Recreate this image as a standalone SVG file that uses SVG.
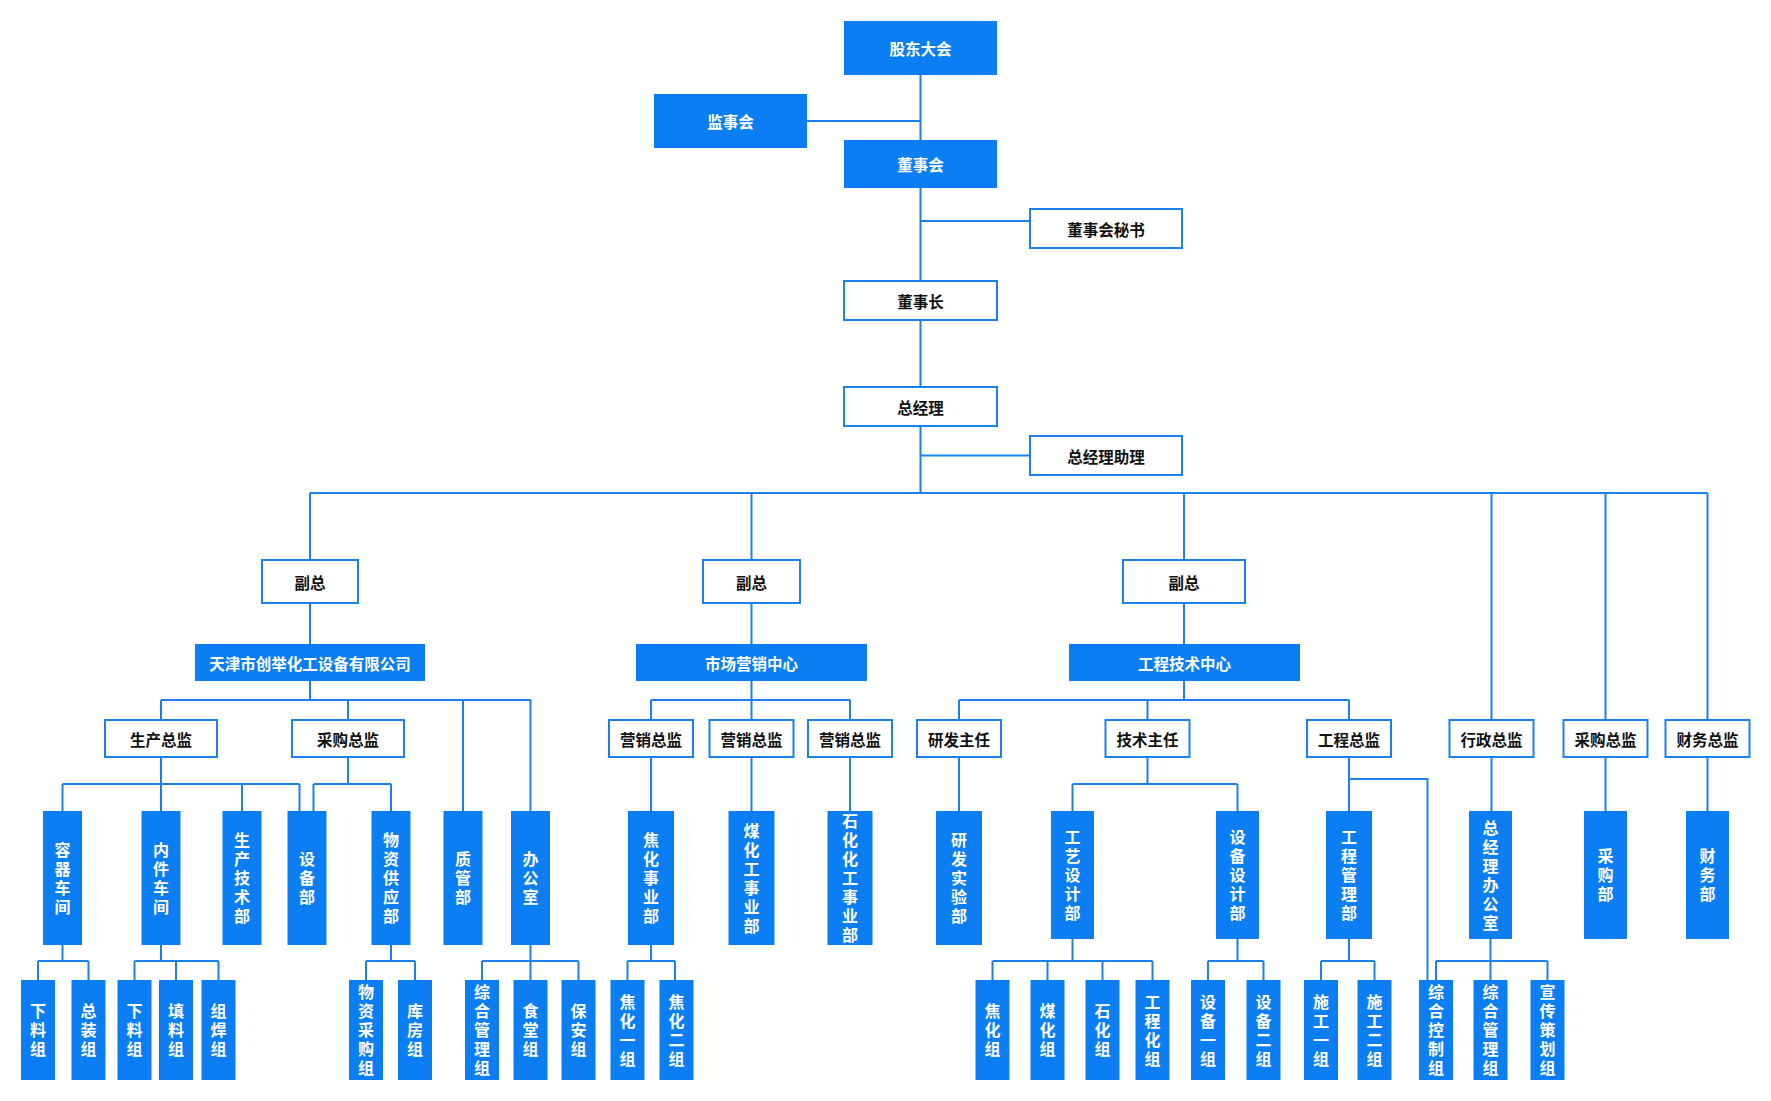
<svg xmlns="http://www.w3.org/2000/svg" width="1771" height="1101" viewBox="0 0 1771 1101">
<style>
.bg{fill:#ffffff}
.ln{stroke:#1a80ec;stroke-width:2;fill:none}
.f{fill:#0b7ef3}
.o{fill:#ffffff;stroke:#1a80ec;stroke-width:2}
text{font-family:"Noto Sans CJK SC","Noto Sans",sans-serif;font-weight:700;text-anchor:middle;dominant-baseline:central}
.w{fill:#ffffff;font-size:15.5px}
.k{fill:#111111;font-size:15.5px}
.v{fill:#ffffff;font-size:16px;writing-mode:vertical-rl;text-orientation:upright;letter-spacing:3px}
</style>
<rect class="bg" x="0" y="0" width="1771" height="1101"/>
<g id="connectors" class="ln">
<path d="M920.5 75V493M807 121H920.5M920.5 221H1030M920.5 455.5H1030"/>
<path d="M310 493H1707.5M310 493V560M751.5 493V560M1184 493V560M1491.5 493V720M1605.5 493V720M1707.5 493V720"/>
<path d="M310 603V644M751.5 603V644M1184 603V644"/>
<path d="M310 681V700M161 700H530.5M161 700V720M348 700V720M463 700V811M530.5 700V811"/>
<path d="M751.5 681V700M651 700H850M651 700V720M751.5 700V720M850 700V720"/>
<path d="M1184 681V700M959 700H1349M959 700V720M1147.5 700V720M1349 700V720"/>
<path d="M161 757V784M62.5 784H299.5M62.5 784V811M161 784V811M242 784V811M299.5 784V811"/>
<path d="M348 757V784M313.5 784H391M313.5 784V811M391 784V811"/>
<path d="M651 757V811M751.5 757V811M850 757V811M959 757V811"/>
<path d="M1147.5 757V784M1072.5 784H1237.5M1072.5 784V811M1237.5 784V811"/>
<path d="M1349 757V811M1349 779H1427.5V980"/>
<path d="M1491.5 757V811M1605.5 757V811M1707.5 757V811"/>
<path d="M62.5 945V961M38 961H88.5M38 961V980M88.5 961V980"/>
<path d="M161 945V961M134.5 961H218.5M134.5 961V980M176 961V980M218.5 961V980"/>
<path d="M391 945V961M366 961H415M366 961V980M415 961V980"/>
<path d="M530.5 945V961M482 961H578.5M482 961V980M530.5 961V980M578.5 961V980"/>
<path d="M651 945V961M627.5 961H675M627.5 961V980M675 961V980"/>
<path d="M1072.5 939V961M992.5 961H1152.5M992.5 961V980M1047.5 961V980M1102.5 961V980M1152.5 961V980"/>
<path d="M1237.5 939V961M1208 961H1263.5M1208 961V980M1263.5 961V980"/>
<path d="M1349 939V961M1321 961H1374.5M1321 961V980M1374.5 961V980"/>
<path d="M1490.5 939V961M1436 961H1547.5M1436 961V980M1490.5 961V980M1547.5 961V980"/>
</g>
<g id="n-gudong"><rect class="f" x="844" y="21" width="153" height="54"/><text class="w" x="920.5" y="48">股东大会</text></g>
<g id="n-jianshi"><rect class="f" x="654" y="94" width="153" height="54"/><text class="w" x="730.5" y="121">监事会</text></g>
<g id="n-dongshihui"><rect class="f" x="844" y="140" width="153" height="48"/><text class="w" x="920.5" y="164">董事会</text></g>
<g id="n-mishu"><rect class="o" x="1030" y="209" width="152" height="39"/><text class="k" x="1106" y="228.5">董事会秘书</text></g>
<g id="n-dongshizhang"><rect class="o" x="844" y="281" width="153" height="39"/><text class="k" x="920.5" y="300.5">董事长</text></g>
<g id="n-zongjingli"><rect class="o" x="844" y="387" width="153" height="39"/><text class="k" x="920.5" y="406.5">总经理</text></g>
<g id="n-zhuli"><rect class="o" x="1030" y="436" width="152" height="39"/><text class="k" x="1106" y="455.5">总经理助理</text></g>
<g id="n-fuzong1"><rect class="o" x="262" y="560" width="96" height="43"/><text class="k" x="310" y="581.5">副总</text></g>
<g id="n-fuzong2"><rect class="o" x="703" y="560" width="97" height="43"/><text class="k" x="751.5" y="581.5">副总</text></g>
<g id="n-fuzong3"><rect class="o" x="1123" y="560" width="122" height="43"/><text class="k" x="1184" y="581.5">副总</text></g>
<g id="n-tianjin"><rect class="f" x="195" y="644" width="230" height="37"/><text class="w" x="310" y="662.5">天津市创举化工设备有限公司</text></g>
<g id="n-shichang"><rect class="f" x="636" y="644" width="231" height="37"/><text class="w" x="751.5" y="662.5">市场营销中心</text></g>
<g id="n-gongcheng"><rect class="f" x="1069" y="644" width="231" height="37"/><text class="w" x="1184.5" y="662.5">工程技术中心</text></g>
<g id="n-shengchanzj"><rect class="o" x="105" y="720" width="112" height="37"/><text class="k" x="161" y="738.5">生产总监</text></g>
<g id="n-caigouzj1"><rect class="o" x="292" y="720" width="112" height="37"/><text class="k" x="348" y="738.5">采购总监</text></g>
<g id="n-yingxiao1"><rect class="o" x="609" y="720" width="84" height="37"/><text class="k" x="651" y="738.5">营销总监</text></g>
<g id="n-yingxiao2"><rect class="o" x="709.5" y="720" width="84" height="37"/><text class="k" x="751.5" y="738.5">营销总监</text></g>
<g id="n-yingxiao3"><rect class="o" x="808" y="720" width="84" height="37"/><text class="k" x="850" y="738.5">营销总监</text></g>
<g id="n-yanfazr"><rect class="o" x="917" y="720" width="84" height="37"/><text class="k" x="959" y="738.5">研发主任</text></g>
<g id="n-jishuzr"><rect class="o" x="1105.5" y="720" width="84" height="37"/><text class="k" x="1147.5" y="738.5">技术主任</text></g>
<g id="n-gongchengzj"><rect class="o" x="1307" y="720" width="84" height="37"/><text class="k" x="1349" y="738.5">工程总监</text></g>
<g id="n-xingzhengzj"><rect class="o" x="1449.5" y="720" width="84" height="37"/><text class="k" x="1491.5" y="738.5">行政总监</text></g>
<g id="n-caigouzj2"><rect class="o" x="1563.5" y="720" width="84" height="37"/><text class="k" x="1605.5" y="738.5">采购总监</text></g>
<g id="n-caiwuzj"><rect class="o" x="1665.5" y="720" width="84" height="37"/><text class="k" x="1707.5" y="738.5">财务总监</text></g>
<g id="n-rongqi"><rect class="f" x="43" y="811" width="39" height="134"/><text class="v" x="62.5" y="879.5">容器车间</text></g>
<g id="n-neijian"><rect class="f" x="141.5" y="811" width="39" height="134"/><text class="v" x="161" y="879.5">内件车间</text></g>
<g id="n-shengchanjs"><rect class="f" x="222.5" y="811" width="39" height="134"/><text class="v" x="242" y="879.5">生产技术部</text></g>
<g id="n-shebei"><rect class="f" x="287.5" y="811" width="39" height="134"/><text class="v" x="307" y="879.5">设备部</text></g>
<g id="n-wuzi"><rect class="f" x="371.5" y="811" width="39" height="134"/><text class="v" x="391" y="879.5">物资供应部</text></g>
<g id="n-zhiguan"><rect class="f" x="443.5" y="811" width="39" height="134"/><text class="v" x="463" y="879.5">质管部</text></g>
<g id="n-bangongshi"><rect class="f" x="511" y="811" width="39" height="134"/><text class="v" x="530.5" y="879.5">办公室</text></g>
<g id="n-jiaohuasyb"><rect class="f" x="628" y="811" width="46" height="134"/><text class="v" x="651" y="879.5">焦化事业部</text></g>
<g id="n-meihuasyb"><rect class="f" x="728.5" y="811" width="46" height="134"/><text class="v" x="751.5" y="879.5">煤化工事业部</text></g>
<g id="n-shihuasyb"><rect class="f" x="827.5" y="811" width="45" height="134"/><text class="v" x="850" y="879.5">石化化工事业部</text></g>
<g id="n-yanfasyb"><rect class="f" x="936" y="811" width="46" height="134"/><text class="v" x="959" y="879.5">研发实验部</text></g>
<g id="n-gongyi"><rect class="f" x="1051" y="811" width="43" height="128"/><text class="v" x="1072.5" y="876.5">工艺设计部</text></g>
<g id="n-shebeisj"><rect class="f" x="1216" y="811" width="43" height="128"/><text class="v" x="1237.5" y="876.5">设备设计部</text></g>
<g id="n-gongchenggl"><rect class="f" x="1326" y="811" width="46" height="128"/><text class="v" x="1349" y="876.5">工程管理部</text></g>
<g id="n-zjlbgs"><rect class="f" x="1469" y="811" width="43" height="128"/><text class="v" x="1490.5" y="876.5">总经理办公室</text></g>
<g id="n-caigoubu"><rect class="f" x="1584" y="811" width="43" height="128"/><text class="v" x="1605.5" y="876.5">采购部</text></g>
<g id="n-caiwubu"><rect class="f" x="1686" y="811" width="43" height="128"/><text class="v" x="1707.5" y="876.5">财务部</text></g>
<g id="n-b1"><rect class="f" x="21" y="980" width="34" height="100"/><text class="v" x="38" y="1031.5">下料组</text></g>
<g id="n-b2"><rect class="f" x="71.5" y="980" width="34" height="100"/><text class="v" x="88.5" y="1031.5">总装组</text></g>
<g id="n-b3"><rect class="f" x="117.5" y="980" width="34" height="100"/><text class="v" x="134.5" y="1031.5">下料组</text></g>
<g id="n-b4"><rect class="f" x="159" y="980" width="34" height="100"/><text class="v" x="176" y="1031.5">填料组</text></g>
<g id="n-b5"><rect class="f" x="201.5" y="980" width="34" height="100"/><text class="v" x="218.5" y="1031.5">组焊组</text></g>
<g id="n-b6"><rect class="f" x="349" y="980" width="34" height="100"/><text class="v" x="366" y="1031.5">物资采购组</text></g>
<g id="n-b7"><rect class="f" x="398" y="980" width="34" height="100"/><text class="v" x="415" y="1031.5">库房组</text></g>
<g id="n-b8"><rect class="f" x="465" y="980" width="34" height="100"/><text class="v" x="482" y="1031.5">综合管理组</text></g>
<g id="n-b9"><rect class="f" x="513.5" y="980" width="34" height="100"/><text class="v" x="530.5" y="1031.5">食堂组</text></g>
<g id="n-b10"><rect class="f" x="561.5" y="980" width="34" height="100"/><text class="v" x="578.5" y="1031.5">保安组</text></g>
<g id="n-b11"><rect class="f" x="610.5" y="980" width="34" height="100"/><text class="v" x="627.5" y="1031.5">焦化一组</text></g>
<g id="n-b12"><rect class="f" x="659.5" y="980" width="34" height="100"/><text class="v" x="676.5" y="1031.5">焦化二组</text></g>
<g id="n-b13"><rect class="f" x="975.5" y="980" width="34" height="100"/><text class="v" x="992.5" y="1031.5">焦化组</text></g>
<g id="n-b14"><rect class="f" x="1030.5" y="980" width="34" height="100"/><text class="v" x="1047.5" y="1031.5">煤化组</text></g>
<g id="n-b15"><rect class="f" x="1085.5" y="980" width="34" height="100"/><text class="v" x="1102.5" y="1031.5">石化组</text></g>
<g id="n-b16"><rect class="f" x="1135.5" y="980" width="34" height="100"/><text class="v" x="1152.5" y="1031.5">工程化组</text></g>
<g id="n-b17"><rect class="f" x="1191" y="980" width="34" height="100"/><text class="v" x="1208" y="1031.5">设备一组</text></g>
<g id="n-b18"><rect class="f" x="1246.5" y="980" width="34" height="100"/><text class="v" x="1263.5" y="1031.5">设备二组</text></g>
<g id="n-b19"><rect class="f" x="1304" y="980" width="34" height="100"/><text class="v" x="1321" y="1031.5">施工一组</text></g>
<g id="n-b20"><rect class="f" x="1357.5" y="980" width="34" height="100"/><text class="v" x="1374.5" y="1031.5">施工二组</text></g>
<g id="n-b21"><rect class="f" x="1419" y="980" width="34" height="100"/><text class="v" x="1436" y="1031.5">综合控制组</text></g>
<g id="n-b22"><rect class="f" x="1473.5" y="980" width="34" height="100"/><text class="v" x="1490.5" y="1031.5">综合管理组</text></g>
<g id="n-b23"><rect class="f" x="1530.5" y="980" width="34" height="100"/><text class="v" x="1547.5" y="1031.5">宣传策划组</text></g>
</svg>
